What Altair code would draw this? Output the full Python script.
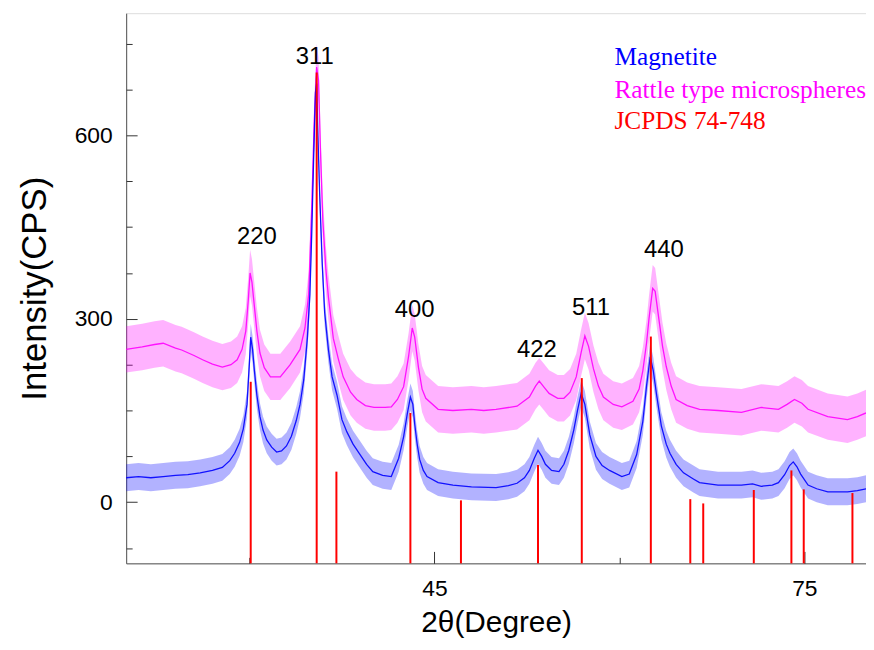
import altair as alt
import pandas as pd

# ---- data ----
blue_x = [20.0, 21.0, 22.0, 23.0, 24.0, 25.0, 26.0, 27.0, 27.8, 28.4, 28.8, 29.2, 29.5, 29.8, 30.0, 30.1,
          30.25, 30.4, 30.6, 30.85, 31.1, 31.4, 31.8, 32.2, 32.6, 33.0, 33.4, 33.8, 34.1, 34.4, 34.7, 34.9,
          35.05, 35.2, 35.35, 35.45, 35.55, 35.7, 35.9, 36.1, 36.4, 36.7, 37.1, 37.5, 37.9, 38.4, 38.9, 39.5,
          40.0, 40.8, 41.5, 42.1, 42.5, 42.8, 43.05, 43.25, 43.4, 43.6, 43.8, 44.1, 44.4, 45.3, 46.5, 48.0,
          50.0, 51.0, 51.7, 52.3, 52.7, 53.1, 53.4, 53.7, 54.0, 54.5, 55.1, 55.5, 55.9, 56.3, 56.6, 56.9,
          57.2, 57.6, 58.1, 58.6, 59.2, 60.2, 60.8, 61.4, 61.9, 62.2, 62.5, 62.75, 63.0, 63.4, 63.8, 64.1,
          64.6, 65.2, 66.0, 66.5, 68.0, 69.9, 70.8, 71.5, 72.4, 72.9, 73.4, 73.8, 74.1, 74.4, 74.7, 75.3,
          76.0, 76.9, 78.5, 79.3, 80.0]
blue_y = [40, 42, 40, 42, 44, 45, 48, 52, 57, 68, 80, 98, 120, 160, 230, 270,
          250, 215, 175, 140, 118, 102, 90, 82, 84, 92, 108, 134, 160, 200, 270, 340,
          440, 560, 670, 685, 600, 500, 390, 310, 250, 205, 175, 135, 115, 95, 80, 62,
          50, 44, 42, 72, 107, 145, 172, 160, 128, 95, 70, 52, 42, 32, 28, 25,
          24, 27, 31, 40, 52, 72, 85, 75, 62, 52, 50, 62, 85, 118, 150, 178,
          160, 110, 75, 60, 52, 42, 46, 78, 132, 190, 238, 215, 178, 125, 95, 80,
          62, 48, 38, 32, 28, 28, 30, 26, 28, 32, 45, 60, 66, 58, 46, 28,
          22, 17, 17, 19, 22]

mag_x = [20.0, 21.3, 22.3, 23.0, 24.0, 24.5, 25.5, 26.2, 27.0, 27.8, 28.5, 29.0, 29.4, 29.7, 29.9, 30.05,
         30.2, 30.4, 30.6, 30.85, 31.2, 31.7, 32.5, 33.3, 34.1, 34.5, 34.8, 35.05, 35.25, 35.45, 35.6, 35.75,
         35.95, 36.2, 36.4, 36.8, 37.2, 37.6, 38.2, 38.7, 39.4, 40.1, 41.0, 41.5, 42.0, 42.5, 42.9, 43.2,
         43.4, 43.7, 44.0, 44.3, 45.3, 46.5, 48.0, 49.0, 50.0, 51.7, 52.7, 53.2, 53.5, 53.9, 54.3, 55.0,
         55.5, 56.0, 56.5, 56.9, 57.2, 57.5, 57.9, 58.3, 58.7, 59.5, 60.2, 61.1, 61.6, 61.9, 62.2, 62.4,
         62.7, 62.9, 63.2, 63.5, 63.8, 64.2, 64.6, 65.5, 66.5, 68.0, 69.9, 71.5, 72.9, 73.6, 74.2, 74.8,
         75.3, 76.9, 78.5, 79.3, 80.0]
mag_y = [250, 254, 258, 260, 252, 249, 240, 233, 226, 221, 225, 233, 250, 280, 330, 375,
         360, 320, 280, 244, 220, 205, 205, 225, 250, 285, 340, 480, 620, 712, 690, 580,
         460, 380, 336, 268, 235, 205, 180, 168, 158, 155, 155, 156, 168, 189, 238, 285,
         270, 221, 185, 170, 152, 150, 152, 150, 152, 157, 172, 190, 198, 188, 178, 170,
         170, 180, 205, 245, 272, 255, 218, 190, 172, 160, 156, 165, 185, 215, 260, 300,
         350, 345, 300, 255, 222, 190, 168, 158, 152, 150, 147, 155, 152, 160, 168, 162,
         152, 140, 135, 140, 146]

blue_noise = 22   # half-width of the noise band (CPS)
mag_noise = 38

ref_pos = [30.1, 35.45, 37.05, 43.05, 47.15, 53.4, 56.95, 62.55, 65.75, 66.8, 70.9, 73.95, 74.95, 78.9]
ref_top = [197, 703, 50, 146, 3, 61, 203, 271, 5, -2, 20, 52, 21, 15]
ref_base = -100

peak_labels = ["220", "311", "400", "422", "511", "440"]
peak_x = [30.6, 35.3, 43.4, 53.3, 57.7, 63.6]
peak_y = [433, 729, 315, 249, 318, 413]

legend_labels = ["Magnetite", "Rattle type microspheres", "JCPDS 74-748"]
legend_colors = ["#0000ff", "#ff00ff", "#ff0000"]
legend_x = [59.6, 59.6, 59.6]
legend_y = [728, 675, 623]

# ---- tables ----
blue = pd.DataFrame({"x": blue_x, "y": blue_y})
blue["lo"] = blue["y"] - blue_noise
blue["hi"] = blue["y"] + blue_noise
mag = pd.DataFrame({"x": mag_x, "y": mag_y})
mag["lo"] = mag["y"] - mag_noise
mag["hi"] = mag["y"] + mag_noise
ref = pd.DataFrame({"x": ref_pos, "top": ref_top})
ref["base"] = ref_base
peaks = pd.DataFrame({"x": peak_x, "y": peak_y, "t": peak_labels})
leg = pd.DataFrame({"x": legend_x, "y": legend_y, "t": legend_labels, "c": legend_colors})

W, H = 745, 554
xs = alt.Scale(domain=[20, 80], nice=False, zero=False)
ys = alt.Scale(domain=[-100, 800], nice=False, zero=False)
FONT = "Liberation Sans"

main_x = alt.Axis(values=[45, 75], ticks=False, grid=False, title="2θ(Degree)",
                  labelFont=FONT, labelFontSize=23, labelColor="black", labelPadding=14,
                  titleFont=FONT, titleFontSize=30, titleFontWeight="normal", titleColor="black",
                  titlePadding=8, domainColor="#555555")
main_y = alt.Axis(values=[0, 300, 600], ticks=False, grid=False, title="Intensity(CPS)",
                  labelFont=FONT, labelFontSize=23, labelColor="black", labelPadding=14,
                  titleFont=FONT, titleFontSize=35, titleFontWeight="normal", titleColor="black",
                  titlePadding=22, domainColor="#555555")


def tick_x(vals, size):
    return alt.Axis(orient="top", offset=-H, values=vals, tickSize=size, tickColor="#333333",
                    labels=False, domain=False, grid=False, title=None)


def tick_y(vals, size):
    return alt.Axis(orient="right", offset=-W, values=vals, tickSize=size, tickColor="#333333",
                    labels=False, domain=False, grid=False, title=None)


mag_band = alt.Chart(mag).mark_area(color="#ff00ff", opacity=0.3).encode(
    x=alt.X("x:Q", scale=xs, axis=main_x),
    y=alt.Y("lo:Q", scale=ys, axis=main_y),
    y2="hi:Q",
)
mag_line = alt.Chart(mag).mark_line(color="#ff00ff", strokeWidth=1.3, opacity=0.9).encode(
    x=alt.X("x:Q", scale=xs, axis=tick_x([45, 75], 12)),
    y=alt.Y("y:Q", scale=ys, axis=tick_y([0, 300, 600], 11)),
)
blue_band = alt.Chart(blue).mark_area(color="#0000ff", opacity=0.3).encode(
    x=alt.X("x:Q", scale=xs, axis=tick_x([30, 60], 6)),
    y=alt.Y("lo:Q", scale=ys, axis=tick_y([-75, 75, 150, 225, 375, 450, 525, 675, 750], 6)),
    y2="hi:Q",
)
blue_line = alt.Chart(blue).mark_line(color="#0000ff", strokeWidth=1.3, opacity=0.9).encode(
    x=alt.X("x:Q", scale=xs, axis=None),
    y=alt.Y("y:Q", scale=ys, axis=None),
)
rules = alt.Chart(ref).mark_rule(color="#ff0000", strokeWidth=2).encode(
    x=alt.X("x:Q", scale=xs, axis=None),
    y=alt.Y("base:Q", scale=ys, axis=None),
    y2="top:Q",
)
plabels = alt.Chart(peaks).mark_text(font=FONT, fontSize=24, color="black", baseline="middle").encode(
    x=alt.X("x:Q", scale=xs, axis=None),
    y=alt.Y("y:Q", scale=ys, axis=None),
    text="t:N",
)
legend = alt.Chart(leg).mark_text(font="Liberation Serif", fontSize=25.5, align="left", baseline="middle").encode(
    x=alt.X("x:Q", scale=xs, axis=None),
    y=alt.Y("y:Q", scale=ys, axis=None),
    text="t:N",
    color=alt.Color("c:N", scale=None),
)

chart = alt.layer(mag_band, mag_line, blue_band, blue_line, rules, plabels, legend).resolve_axis(
    x="independent", y="independent"
).properties(
    width=W, height=H, autosize="none",
    padding={"left": 119, "top": 3, "right": 0, "bottom": 77},
).configure_view(stroke="#888888", strokeWidth=1).configure(background="white")

chart.save("out.html", embed_options={"renderer": "svg", "actions": False})
